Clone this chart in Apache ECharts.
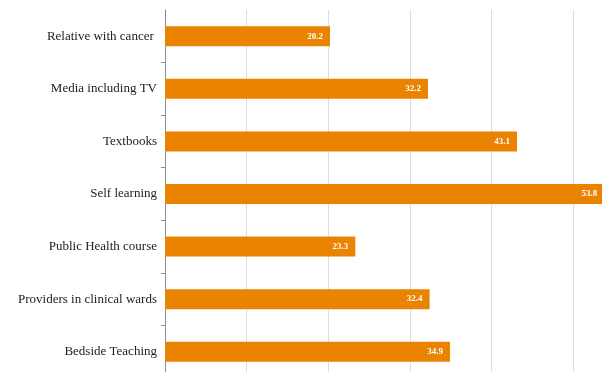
<!DOCTYPE html>
<html>
<head>
<meta charset="utf-8">
<script src="https://cdn.jsdelivr.net/npm/echarts@6/dist/echarts.min.js"></script>
<style>
  html, body { margin: 0; padding: 0; background: #fff; overflow: hidden; }
  /* the chart runs past the window on the right and bottom, as in the source */
  #main { width: 655px; height: 378px; }
</style>
</head>
<body>
<div id="main"></div>
<script>
// categories, top to bottom
var categories = [
  "Relative with cancer ",
  "Media including TV",
  "Textbooks",
  "Self learning",
  "Public Health course",
  "Providers in clinical wards",
  "Bedside Teaching"
];
var values = [20.2, 32.2, 43.1, 53.8, 23.3, 32.4, 34.9];
var xTicks = [0, 10, 20, 30, 40, 50, 60];

var myChart = echarts.init(document.getElementById("main"));
var option = {
  animation: false,
  grid: { left: 165, right: 0, top: 10, bottom: 0, containLabel: false },
  xAxis: {
    type: "value",
    min: xTicks[0],
    max: xTicks[xTicks.length - 1],
    interval: 10,
    axisLine: { show: false },
    axisTick: { show: false },
    axisLabel: { show: false },
    splitLine: { lineStyle: { color: "#dcdcdc", width: 1 } }
  },
  yAxis: {
    type: "category",
    data: categories,
    inverse: true,
    axisLine: { lineStyle: { color: "#8c8c8c", width: 1 } },
    axisTick: {
      show: true,
      length: 4,
      // no tick at the very top of the axis
      interval: function (index) {
        return index !== 0;
      },
      lineStyle: { color: "#8c8c8c" }
    },
    axisLabel: {
      margin: 8,
      fontFamily: "Liberation Serif",
      fontSize: 13,
      color: "#222"
    }
  },
  series: [
    {
      type: "bar",
      data: values,
      barWidth: 20,
      itemStyle: { color: "#e98300" },
      label: {
        show: true,
        position: "insideRight",
        distance: 7,
        fontFamily: "Liberation Serif",
        fontSize: 9,
        fontWeight: "bold",
        color: "#fff"
      }
    }
  ]
};
option && myChart.setOption(option);
</script>
</body>
</html>
